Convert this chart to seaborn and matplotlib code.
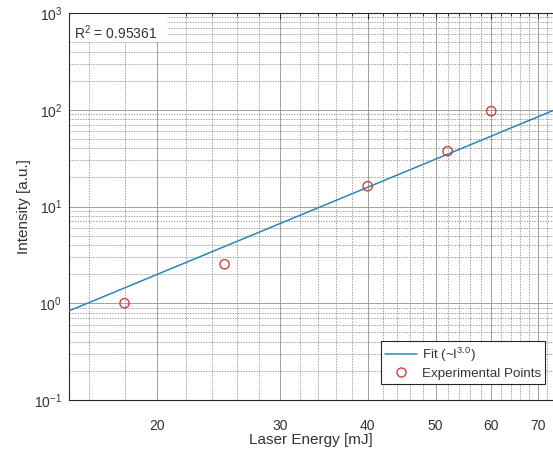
import numpy as np
import pandas as pd
import matplotlib
matplotlib.use("Agg")
import matplotlib.pyplot as plt
import seaborn as sns
from matplotlib.ticker import FixedLocator, FixedFormatter, LogLocator, NullFormatter, FuncFormatter
from matplotlib.lines import Line2D
from matplotlib.patches import Rectangle

# Measured points
energy_mj = [18, 25, 40, 52, 60]
intensity = [1.0, 2.53, 16.2, 37.3, 96.8]

# Power-law fit  I = c * E^n
fit_exponent = 3.0
fit_coeff = 2.47e-4
r_squared = 0.95361

# Axis ticks
x_range = [15, 73.5]
x_major = [20, 30, 40, 50, 60, 70]
x_minor = [16, 18, 22, 24, 26, 28, 32, 34, 36, 38, 42, 44, 46, 48,
           52, 54, 56, 58, 62, 64, 66, 68, 72]
y_range = [1e-1, 1e3]

sns.set_style("white")
plt.rcParams['font.family'] = ['Liberation Sans', 'DejaVu Sans']
plt.rcParams['mathtext.fontset'] = 'custom'
plt.rcParams['mathtext.rm'] = 'Liberation Sans'
plt.rcParams['mathtext.it'] = 'Liberation Sans:italic'
plt.rcParams['mathtext.bf'] = 'Liberation Sans:bold'

TEXT = '#333333'
AX = '#262626'
LINE_C = '#2a86b8'
PT_C = '#d2403c'

fig = plt.figure(figsize=(5.53, 4.51), dpi=100)
ax = fig.add_axes([69 / 553, 1 - 400 / 451, 484 / 553, 387 / 451])
ax.set_xscale('log')
ax.set_yscale('log')

fit_x = np.geomspace(x_range[0], x_range[1], 200)
fit_df = pd.DataFrame({"energy": fit_x,
                       "intensity": fit_coeff * fit_x ** fit_exponent})
pts_df = pd.DataFrame({"energy": energy_mj, "intensity": intensity})

sns.lineplot(data=fit_df, x="energy", y="intensity", ax=ax,
             color=LINE_C, linewidth=1.1, zorder=3)
sns.scatterplot(data=pts_df, x="energy", y="intensity", ax=ax,
                marker='o', s=45, facecolor='none', edgecolor=PT_C,
                linewidth=1.0, zorder=4)

ax.set_xlim(*x_range)
ax.set_ylim(*y_range)

ax.xaxis.set_major_locator(FixedLocator(x_major))
ax.xaxis.set_major_formatter(FixedFormatter([str(v) for v in x_major]))
ax.xaxis.set_minor_locator(FixedLocator(x_minor))
ax.xaxis.set_minor_formatter(NullFormatter())
ax.yaxis.set_major_locator(LogLocator(base=10, numticks=10))
ax.yaxis.set_major_formatter(FuncFormatter(
    lambda v, p: r"$10^{%d}$" % int(round(np.log10(v)))))
ax.yaxis.set_minor_locator(LogLocator(base=10, subs=np.arange(2, 10), numticks=20))
ax.yaxis.set_minor_formatter(NullFormatter())

ax.set_axisbelow(True)
ax.grid(which='major', color='#a0a0a0', linewidth=0.7, linestyle='-')
ax.grid(which='minor', color='#909090', linewidth=0.55, linestyle=(0, (2, 1.5)))

ax.tick_params(which='both', direction='in', top=True, right=False,
               colors=AX, labelcolor=TEXT, labelsize=10)
ax.tick_params(which='major', length=4, width=0.7)
ax.tick_params(which='minor', length=2.5, width=0.6)
ax.tick_params(axis='x', which='major', pad=14)
ax.tick_params(axis='y', which='major', pad=5)

for side in ['left', 'bottom', 'top']:
    ax.spines[side].set_color(AX)
    ax.spines[side].set_linewidth(0.8)
ax.spines['right'].set_visible(False)

ax.set_xlabel('Laser Energy [mJ]', fontsize=11, color=TEXT, labelpad=0)
ax.set_ylabel('Intensity [a.u.]', fontsize=11, color=TEXT, labelpad=2)

# Coefficient-of-determination annotation on a white patch
ax.add_patch(Rectangle((0, 0.925), 0.2025, 0.075, transform=ax.transAxes,
                       facecolor='white', edgecolor='none', zorder=1))
ax.text(0.011, 0.933, r"R$^{2}$ = %.5f" % r_squared, transform=ax.transAxes,
        fontsize=10, color=TEXT, ha='left', va='baseline', zorder=5)

handles = [
    Line2D([], [], color=LINE_C, linewidth=1.1,
           label=r"Fit (~I$^{%.1f}$)" % fit_exponent),
    Line2D([], [], color=PT_C, marker='o', markersize=6.5, linestyle='none',
           markerfacecolor='none', markeredgewidth=1.0,
           label="Experimental Points"),
]
leg = ax.legend(handles=handles, loc='lower right',
                bbox_to_anchor=(0.9835, 0.0413), borderaxespad=0,
                fontsize=9.6, frameon=True, fancybox=False, framealpha=1,
                edgecolor=AX, handlelength=2.4, handletextpad=0.38,
                labelspacing=0.3, borderpad=0.3)
leg.get_frame().set_linewidth(0.8)
for t in leg.get_texts():
    t.set_color(TEXT)

fig.savefig("out.png", dpi=100)
